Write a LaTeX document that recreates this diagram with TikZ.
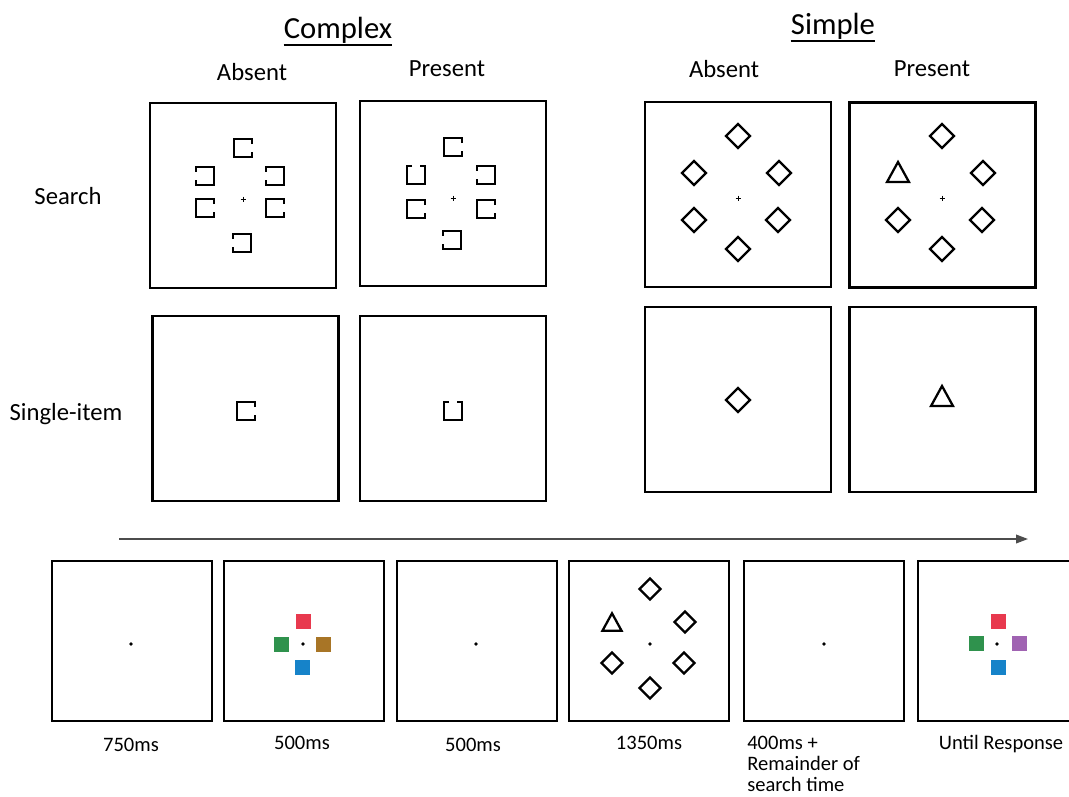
\documentclass[tikz,border=0pt]{standalone}
\usepackage{fontspec}
\setmainfont{Carlito}
\usepackage{tikz}
\usetikzlibrary{arrows.meta,positioning}

\definecolor{sqred}{RGB}{232,57,78}
\definecolor{sqgreen}{RGB}{47,146,77}
\definecolor{sqgold}{RGB}{168,117,38}
\definecolor{sqblue}{RGB}{22,131,201}
\definecolor{sqpurple}{RGB}{160,99,178}

\tikzset{
  panel/.style={draw, line width=2pt, minimum width=139.5pt, minimum height=138.75pt, inner sep=0pt},
  trial/.style={draw, line width=1.6pt, minimum width=120pt, minimum height=120pt, inner sep=0pt},
  ttl/.style={font=\fontsize{23}{26}\selectfont, inner sep=0pt, anchor=base},
  hdr/.style={font=\fontsize{18.5}{22}\selectfont, inner sep=0pt, anchor=base},
  tlbl/.style={font=\fontsize{15.4}{15.8}\selectfont, inner sep=0pt, anchor=base},
  stim/.style={line width=1.7pt},
  pics/diam/.style={code={\draw[stim] (0,-12) -- (12,0) -- (0,12) -- (-12,0) -- cycle;}},
  pics/tri/.style={code={\draw[stim] (-11,10) -- (11,10) -- (0,-10) -- cycle;}},
  pics/gapsq/.style={code={\draw[stim] (9,-4) -- (9,-9) -- (-9,-9) -- (-9,9) -- (9,9) -- (9,4);}},
  pics/fixc/.style={code={\draw[line width=0.6pt] (-2.5,0) -- (2.5,0) (0,-2.5) -- (0,2.5);}},
  pics/fixd/.style={code={\fill (0,0) circle (1.8);}},
  pics/csq/.style={code={\fill[#1] (-7.5,-7.5) rectangle (7.5,7.5);}},
  timeline/.style={line width=1.2pt, black!70, -{Triangle[length=9pt,width=6.5pt]}}
}

\begin{document}
\begin{tikzpicture}[x=0.75pt, y=-0.75pt]
  \useasboundingbox (0,0) rectangle (1069,796);

  % Headings
  \node[ttl] (complex) at (338,38) {Complex};
  \node[ttl] (simple) at (833,34) {Simple};
  \draw[line width=1.4pt] ([yshift=-1.5pt]complex.south west) -- ([yshift=-1.5pt]complex.south east);
  \draw[line width=1.4pt] ([yshift=-1.5pt]simple.south west) -- ([yshift=-1.5pt]simple.south east);

  \node[hdr] (cabs) at (252,80) {Absent};
  \node[hdr] (cpre) at (447,76) {Present};
  \node[hdr] (sabs) at (724,77) {Absent};
  \node[hdr] (spre) at (932,76) {Present};
  \node[hdr] (search) at (68,204) {Search};
  \node[hdr] (single) at (66,420) {Single-item};

  % Panels
  \node[panel] (csa) at (243,195.5) {};
  \node[panel] (csp) at (453,193.5) {};
  \node[panel] (cia) at (245.5,408.5) {};
  \node[panel] (cip) at (453,408.5) {};
  \node[panel] (ssa) at (738,194.5) {};
  \node[panel] (ssp) at (942.5,195) {};
  \node[panel] (sia) at (738,399.5) {};
  \node[panel] (sip) at (942.5,399.5) {};

  % Complex search, absent
  \pic at (243,199) {fixc};
  \foreach \x/\y in {243/148,205/208,275/208} \pic at (\x,\y) {gapsq};
  \foreach \x/\y in {205/176,275/176,242/243} \pic[rotate=180] at (\x,\y) {gapsq};

  % Complex search, present
  \pic at (453,198) {fixc};
  \foreach \x/\y in {453/147,416/209,486/209} \pic at (\x,\y) {gapsq};
  \foreach \x/\y in {486/175,452/240} \pic[rotate=180] at (\x,\y) {gapsq};
  \pic[rotate=90] at (416,175) {gapsq};

  % Complex single-item
  \pic at (246,411) {gapsq};
  \pic[rotate=90] at (453,411) {gapsq};

  % Simple search
  \pic at (738,198) {fixc};
  \foreach \x/\y in {738/136,694/173,779/173,694/220,778/220,738/249} \pic at (\x,\y) {diam};
  \pic at (942,198) {fixc};
  \foreach \x/\y in {942/136,983/173,898/220,982/220,942/249} \pic at (\x,\y) {diam};
  \pic at (898,172) {tri};

  % Simple single-item
  \pic at (738,400) {diam};
  \pic at (942,396) {tri};

  % Timeline
  \coordinate (tstart) at (119,539);
  \coordinate (tend) at (1028,539);
  \draw[timeline] (tstart) -- (tend);

  \foreach \n/\x in {t1/132,t2/304,t3/477,t4/649,t5/824,t6/998}
    \node[trial] (\n) at (\x,641) {};

  \foreach \x in {131,303,476,650,824,997} \pic at (\x,644) {fixd};

  \pic at (303,621) {csq=sqred};
  \pic at (281,644) {csq=sqgreen};
  \pic at (323,644) {csq=sqgold};
  \pic at (302,667) {csq=sqblue};

  \foreach \x/\y in {650/589,685/622,612/663,684/663,650/688} \pic[scale=0.87] at (\x,\y) {diam};
  \pic[scale=0.87] at (612,622) {tri};

  \pic at (998,621) {csq=sqred};
  \pic at (976,643) {csq=sqgreen};
  \pic at (1019,643) {csq=sqpurple};
  \pic at (998,667) {csq=sqblue};

  % Durations
  \node[tlbl] (d1) at (131,751) {750ms};
  \node[tlbl] (d2) at (302,749) {500ms};
  \node[tlbl] (d3) at (473,751) {500ms};
  \node[tlbl] (d4) at (649,749) {1350ms};
  \node[tlbl, anchor=north west, align=left] (d5) at (747,736) {400ms +\\Remainder of\\search time};
  \node[tlbl] (d6) at (1001,749) {Until Response};
\end{tikzpicture}
\end{document}
